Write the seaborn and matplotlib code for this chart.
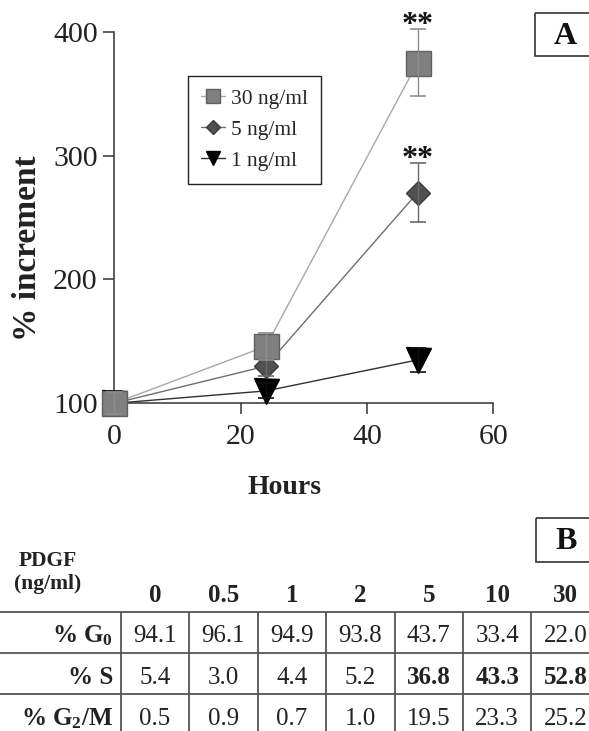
import matplotlib
matplotlib.use("Agg")
import numpy as np
import pandas as pd
import seaborn as sns
import matplotlib.pyplot as plt
from matplotlib.patches import Rectangle
from matplotlib.lines import Line2D

# ---------------- data (panel A) ----------------
hours = [0, 24, 48]
series_labels = ["30 ng/ml", "5 ng/ml", "1 ng/ml"]
inc_30 = [100, 146, 375]
err_30 = [9, 11, 27]
inc_5 = [100, 130, 270]
err_5 = [9, 8, 24]
inc_1 = [100, 110, 135]
err_1 = [10, 6, 10]
sig_48 = ["**", "**", ""]
x_ticks = [0, 20, 40, 60]
y_ticks = [100, 200, 300, 400]

# ---------------- data (panel B table) ----------------
doses = ["0", "0.5", "1", "2", "5", "10", "30"]
row_labels = [r"% G$_0$", "% S", r"% G$_2$/M"]
g0_vals = ["94.1", "96.1", "94.9", "93.8", "43.7", "33.4", "22.0"]
s_vals = ["5.4", "3.0", "4.4", "5.2", "36.8", "43.3", "52.8"]
g2m_vals = ["0.5", "0.9", "0.7", "1.0", "19.5", "23.3", "25.2"]
s_bold = [False, False, False, False, True, True, True]

sns.set_style("ticks")
plt.rcParams["font.family"] = ["Liberation Serif", "DejaVu Serif"]
plt.rcParams["mathtext.default"] = "regular"

W, H = 589, 731
fig = plt.figure(figsize=(W / 100, H / 100), dpi=100)

def fx(px):
    return px / W

def fy(py):
    return 1 - py / H

# axes A placed in pixel layout
ax_l, ax_r, ax_t, ax_b = 114.3, 493.3, 31.7, 403.3
ax = fig.add_axes([fx(ax_l), fy(ax_b), fx(ax_r) - fx(ax_l), fy(ax_t) - fy(ax_b)])

df = pd.DataFrame({
    "Hours": hours * 3,
    "inc": inc_30 + inc_5 + inc_1,
    "err": err_30 + err_5 + err_1,
    "series": [s for s in series_labels for _ in hours],
})

styles = {
    "30 ng/ml": dict(line="#a8a8a8", marker="s", ms=18, mfc="#808080", mec="#606060", ecol="#8c8c8c", z=5),
    "5 ng/ml": dict(line="#6e6e6e", marker="D", ms=12.7, mfc="#505050", mec="#3c3c3c", ecol="#6a6a6a", z=4),
    "1 ng/ml": dict(line="#303030", marker="v", ms=18, mfc="#000000", mec="#000000", ecol="#111111", z=3),
}

for lab in ["1 ng/ml", "5 ng/ml", "30 ng/ml"]:
    st = styles[lab]
    sub = df[df["series"] == lab]
    sns.lineplot(data=sub, x="Hours", y="inc", ax=ax, color=st["line"], lw=1.0,
                 marker=st["marker"], markersize=st["ms"], markerfacecolor=st["mfc"],
                 markeredgecolor=st["mec"], markeredgewidth=1.0, zorder=st["z"],
                 clip_on=False, legend=False, errorbar=None)
    eb = ax.errorbar(sub["Hours"], sub["inc"], yerr=sub["err"], fmt="none",
                     ecolor=st["ecol"], elinewidth=1.0, capsize=5.5, capthick=1.2,
                     zorder=st["z"] + 0.5)
    for art in eb.get_children():
        art.set_clip_on(False)

# significance asterisks
for lab, sig in zip(series_labels, sig_48):
    if sig:
        sub = df[(df["series"] == lab) & (df["Hours"] == hours[-1])]
        top = float(sub["inc"].iloc[0] + sub["err"].iloc[0])
        ax.annotate(sig, xy=(hours[-1], top), xytext=(0, -3), textcoords="offset points",
                    ha="center", va="baseline", fontsize=23, fontweight="bold",
                    color="#111111", annotation_clip=False)

ax.set_xlim(0, 60)
ax.set_ylim(100, 400)
ax.set_xticks(x_ticks)
ax.set_yticks(y_ticks)
ax.tick_params(axis="both", labelsize=21.5, length=8, width=1.1, color="#333333",
               labelcolor="#222222", direction="out")
ax.tick_params(axis="y", pad=4)
ax.tick_params(axis="x", pad=7)
sns.despine(ax=ax)
for side in ["left", "bottom"]:
    ax.spines[side].set_color("#333333")
    ax.spines[side].set_linewidth(1.1)
ax.spines["left"].set_bounds(100, 400)
ax.spines["bottom"].set_bounds(0, 60)

ax.set_ylabel("% increment", fontsize=24, fontweight="bold", color="#222222")
ax.yaxis.label.set_va("center")
ax.yaxis.set_label_coords((28 - ax_l) / (ax_r - ax_l), (ax_b - 248.5) / (ax_b - ax_t))
ax.set_xlabel("Hours", fontsize=20, fontweight="bold", color="#222222")
ax.xaxis.label.set_va("center")
ax.xaxis.set_label_coords((285 - ax_l) / (ax_r - ax_l), -(488 - ax_b) / (ax_b - ax_t))

handles = []
for lab in series_labels:
    st = styles[lab]
    handles.append(Line2D([0], [0], color=st["line"], lw=1.0, marker=st["marker"],
                          markersize=st["ms"] * 0.55, markerfacecolor=st["mfc"],
                          markeredgecolor=st["mec"]))
leg = ax.legend(handles, series_labels, loc="upper left",
                bbox_to_anchor=((188 - ax_l) / (ax_r - ax_l), (ax_b - 76) / (ax_b - ax_t)),
                borderaxespad=0, frameon=True, fancybox=False, framealpha=1,
                edgecolor="#222222", fontsize=15.5, handlelength=1.1, handletextpad=0.3,
                labelspacing=0.5, borderpad=0.6)
leg.get_frame().set_linewidth(1.0)

# ---------------- overlay in pixel coordinates: panel labels and table ----------------
ov = fig.add_axes([0, 0, 1, 1])
ov.set_xlim(0, W)
ov.set_ylim(H, 0)
ov.axis("off")

def panel_box(x0, y0, y1, letter):
    ov.add_patch(Rectangle((x0, y0), W + 20 - x0, y1 - y0, fill=False,
                           edgecolor="#333333", lw=1.2, clip_on=True))
    ov.text(x0 + 30, (y0 + y1) / 2 + 9, letter, ha="center", va="baseline",
            fontsize=23, fontweight="bold", color="#111111")

panel_box(535, 13.3, 56, "A")
panel_box(535.7, 518.3, 561.7, "B")

col0, colw = 120.7, 68.45
row0, rowh = 611.7, 41.3
ncol = len(doses)
nrow = len(row_labels)
line_c = "#555555"
for r in range(nrow + 1):
    ov.hlines(row0 + r * rowh, 0, W + 10, color=line_c, lw=1.3)
for c in range(ncol + 1):
    ov.vlines(col0 + c * colw, row0, row0 + nrow * rowh, color=line_c, lw=1.3)

ov.text(47.5, 566, "PDGF", ha="center", va="baseline", fontsize=15.5, fontweight="bold", color="#222222")
ov.text(47.5, 589, "(ng/ml)", ha="center", va="baseline", fontsize=15.5, fontweight="bold", color="#222222")

for c, d in enumerate(doses):
    ov.text(col0 + (c + 0.5) * colw, 601.5, d, ha="center", va="baseline",
            fontsize=18, fontweight="bold", color="#222222")

table_rows = [g0_vals, s_vals, g2m_vals]
for r, (lab, vals) in enumerate(zip(row_labels, table_rows)):
    yb = row0 + (r + 0.5) * rowh + 10
    ov.text(113.3, yb, lab, ha="right", va="baseline", fontsize=18,
            fontweight="bold", color="#222222")
    for c, v in enumerate(vals):
        bold = (r == 1 and s_bold[c])
        ov.text(col0 + (c + 0.5) * colw, yb, v, ha="center", va="baseline",
                fontsize=18, fontweight="bold" if bold else "normal", color="#222222")

fig.savefig("out.png", dpi=100)
